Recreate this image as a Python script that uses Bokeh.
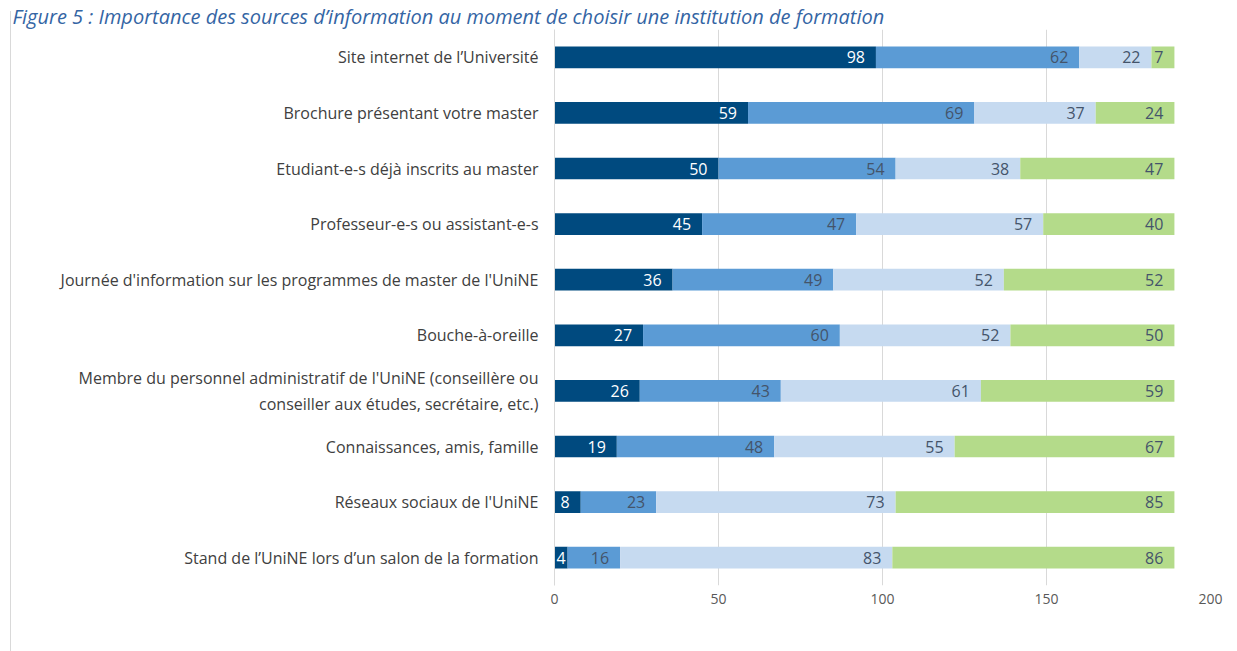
from bokeh.plotting import figure
from bokeh.models import (ColumnDataSource, FactorRange, Range1d, Legend, LegendItem,
                          FixedTicker, Label)
from bokeh.embed import file_html
from bokeh.resources import INLINE
from bokeh.core.properties import value

# ---------------- data ----------------
categories = [
    "Site internet de l\u2019Universit\u00e9",
    "Brochure pr\u00e9sentant votre master",
    "Etudiant-e-s d\u00e9j\u00e0 inscrits au master",
    "Professeur-e-s ou assistant-e-s",
    "Journ\u00e9e d'information sur les programmes de master de l'UniNE",
    "Bouche-\u00e0-oreille",
    "Membre du personnel administratif de l'UniNE (conseill\u00e8re ou\nconseiller aux \u00e9tudes, secr\u00e9taire, etc.)",
    "Connaissances, amis, famille",
    "R\u00e9seaux sociaux de l'UniNE",
    "Stand de l\u2019UniNE lors d\u2019un salon de la formation",
]
tres_important = [98, 59, 50, 45, 36, 27, 26, 19, 8, 4]
assez_important = [62, 69, 54, 47, 49, 60, 43, 48, 23, 16]
peu_important = [22, 37, 38, 57, 52, 52, 61, 55, 73, 83]
pas_important = [7, 24, 47, 40, 52, 50, 59, 67, 85, 86]
series_names = ["tr\u00e8s important", "assez important", "peu important", "pas important"]
x_ticks = [0, 50, 100, 150, 200]
title_text = ("Figure 5 : Importance des sources d\u2019information au moment de choisir "
              "une institution de formation")

colors = ["#004A7F", "#5B9BD5", "#C6DAF0", "#B4DB8A"]
label_colors = ["#FFFFFF", "#44546A", "#44546A", "#44546A"]
FONT = "Open Sans"

W = 1237
LEFT, RIGHT, TOP = 554, 27, 28
FRAME_W = W - LEFT - RIGHT
FRAME_H = 556
N = len(categories)

series = [tres_important, assez_important, peu_important, pas_important]
keys = ["s0", "s1", "s2", "s3"]

data = {"cat": categories}
for k, s in zip(keys, series):
    data[k] = s
source = ColumnDataSource(data)

border_css = {
    "background-image": "linear-gradient(#D9D9D9, #D9D9D9)",
    "background-size": "1px 100%",
    "background-position": "10px 11px",
    "background-repeat": "no-repeat",
    "background-color": "white",
}

p = figure(frame_width=FRAME_W, frame_height=FRAME_H,
           y_range=FactorRange(factors=list(reversed(categories)), range_padding=0),
           x_range=Range1d(0, 200),
           output_backend="svg", toolbar_location=None,
           min_border_left=LEFT, min_border_right=RIGHT,
           min_border_top=TOP, min_border_bottom=0,
           styles=border_css)
p.outline_line_color = None
p.background_fill_color = "white"
p.border_fill_color = None

# title (the reference shows it in blue italics above the chart)
p.title.text = title_text
p.title.align = "left"
p.title.offset = 12 - LEFT
p.title.standoff = 0
p.title.text_font = FONT
p.title.text_font_style = "italic"
p.title.text_font_size = "20px"
p.title.text_color = "#3465A4"

renderers = p.hbar_stack(keys, y="cat", height=0.39, color=colors, source=source,
                         line_color=None)


def row_center(j):
    """screen offset (from the frame bottom) of the middle of category j"""
    return (N - 1 - j + 0.5) * FRAME_H / N


# value labels, anchored at the end of each stacked segment
lx, ly, lt, lc, lo = [], [], [], [], []
for i, s in enumerate(series):
    for j, v in enumerate(s):
        end = sum(series[k][j] for k in range(i + 1))
        lx.append(end)
        ly.append(categories[j])
        lt.append(str(v))
        lc.append(label_colors[i])
        lo.append(-2 if v < 5 else -11)
lsrc = ColumnDataSource(dict(x=lx, y=ly, text=lt, color=lc, xoff=lo))
p.text(x="x", y="y", text="text", source=lsrc, text_color="color", x_offset="xoff",
       text_align="right", text_baseline="middle", text_font=value(FONT),
       text_font_size="16px")

# axes
p.xaxis.ticker = FixedTicker(ticks=x_ticks)
p.xaxis.axis_line_color = None
p.xaxis.major_tick_line_color = None
p.xaxis.major_tick_out = 0
p.xaxis.minor_tick_line_color = None
p.xaxis.major_label_text_font = FONT
p.xaxis.major_label_text_font_size = "14px"
p.xaxis.major_label_text_color = "#595959"
p.xaxis.major_label_standoff = 8

LABEL_SIZE = "16px"
wrapped = categories[6]
p.yaxis.axis_line_color = "#D9D9D9"
p.yaxis.major_tick_line_color = None
p.yaxis.major_tick_out = 0
p.yaxis.minor_tick_line_color = None
p.yaxis.major_label_text_font = FONT
p.yaxis.major_label_text_font_size = LABEL_SIZE
p.yaxis.major_label_text_color = "#404040"
p.yaxis.major_label_standoff = 16
p.yaxis.major_label_overrides = {wrapped: " "}

# the two-line category label, with its lines centred on each other
p.add_layout(Label(x=-245, y=row_center(categories.index(wrapped)),
                   x_units="screen", y_units="screen", text=wrapped,
                   text_align="center", text_baseline="middle",
                   text_font=FONT, text_font_size=LABEL_SIZE, text_color="#404040",
                   text_line_height=1.15))

p.xgrid.grid_line_color = "#D9D9D9"
p.xgrid.ticker = FixedTicker(ticks=x_ticks)
p.ygrid.grid_line_color = None

legend = Legend(items=[LegendItem(label=n, renderers=[r]) for n, r in zip(series_names, renderers)],
                orientation="horizontal", location="top_left",
                glyph_width=8, glyph_height=8, label_standoff=4, spacing=14,
                padding=0, margin=0, border_line_color=None, background_fill_alpha=0,
                label_text_font=FONT, label_text_font_size="12.5px",
                label_text_color="#595959", label_height=14)
p.add_layout(legend, "below")

open("out.html", "w").write(file_html(p, INLINE))
